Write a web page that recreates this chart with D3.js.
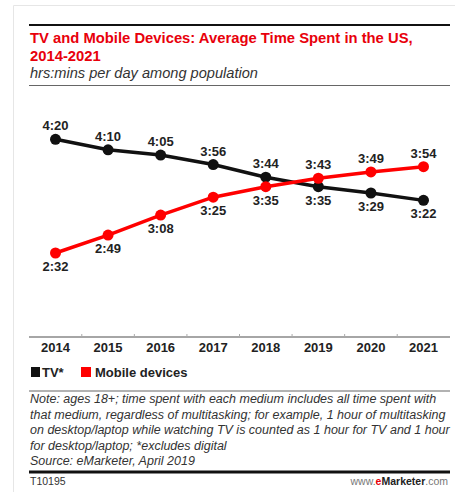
<!DOCTYPE html>
<html>
<head>
<meta charset="utf-8">
<script src="https://cdn.jsdelivr.net/npm/d3@7"></script>
<style>
  body { margin: 0; background: #fff; }
  text { font-family: Arial, "Liberation Sans", sans-serif; }
</style>
</head>
<body>
<div id="chart"></div>
<script>
// data (minutes per day)
var years = ["2014", "2015", "2016", "2017", "2018", "2019", "2020", "2021"];
var tvMinutes = [260, 250, 245, 236, 224, 215, 209, 202];
var mobileMinutes = [152, 169, 188, 205, 215, 223, 229, 234];
var seriesNames = ["TV*", "Mobile devices"];
var seriesColors = ["#111111", "#ff0000"];

var noteLines = [
    "Note: ages 18+; time spent with each medium includes all time spent with",
    "that medium, regardless of multitasking; for example, 1 hour of multitasking",
    "on desktop/laptop while watching TV is counted as 1 hour for TV and 1 hour",
    "for desktop/laptop; *excludes digital",
    "Source: eMarketer, April 2019"
];

function fmt(m) {
    var h = Math.floor(m / 60), mm = m % 60;
    return h + ":" + (mm < 10 ? "0" : "") + mm;
}

var width = 455, height = 492;
var left = 29, right = 450;

var svg = d3.select("#chart")
    .append("svg")
    .attr("width", width)
    .attr("height", height);

// panel frame
svg.append("path")
    .attr("d", "M13.5," + height + "V5.5H" + width)
    .attr("fill", "none")
    .attr("stroke", "#e6e6e6")
    .attr("stroke-width", 1);

// header
svg.append("line").attr("x1", left).attr("x2", right).attr("y1", 25).attr("y2", 25)
    .attr("stroke", "#111").attr("stroke-width", 2);

var title = svg.append("text")
    .attr("x", left + 1)
    .attr("fill", "#e8000b")
    .style("font-size", "14.8px")
    .style("font-weight", "bold");
title.append("tspan").attr("x", left + 1).attr("y", 43).text("TV and Mobile Devices: Average Time Spent in the US,");
title.append("tspan").attr("x", left + 1).attr("y", 61).text("2014-2021");

svg.append("text")
    .attr("x", left + 1).attr("y", 78)
    .attr("fill", "#333")
    .style("font-size", "14.6px")
    .style("font-style", "italic")
    .text("hrs:mins per day among population");

svg.append("line").attr("x1", left).attr("x2", right).attr("y1", 85.5).attr("y2", 85.5)
    .attr("stroke", "#666").attr("stroke-width", 1.2);

// scales
var x = d3.scalePoint()
    .domain(years)
    .range([55.5, 423.5]);

var y = d3.scaleLinear()
    .domain([152, 260])
    .range([253, 139.3]);

// x axis
var axisY = 337;
var xAxis = svg.append("g")
    .attr("transform", "translate(0," + axisY + ")");
xAxis.append("line").attr("x1", left).attr("x2", right)
    .attr("stroke", "#888").attr("stroke-width", 1.5);
xAxis.selectAll(".sep")
    .data(years.slice(1))
    .enter().append("line")
    .attr("x1", function(d) { return x(d) - x.step() / 2; })
    .attr("x2", function(d) { return x(d) - x.step() / 2; })
    .attr("y1", 0).attr("y2", -3)
    .attr("stroke", "#aaa").attr("stroke-width", 1);
xAxis.selectAll(".yr")
    .data(years)
    .enter().append("text")
    .attr("x", function(d) { return x(d); })
    .attr("y", 15)
    .attr("text-anchor", "middle")
    .attr("fill", "#222")
    .style("font-size", "13px")
    .style("font-weight", "bold")
    .text(function(d) { return d; });

// lines + points
var series = [tvMinutes, mobileMinutes];
var line = d3.line()
    .x(function(d, i) { return x(years[i]); })
    .y(function(d) { return y(d); });

series.forEach(function(vals, s) {
    svg.append("path")
        .datum(vals)
        .attr("d", line)
        .attr("fill", "none")
        .attr("stroke", seriesColors[s])
        .attr("stroke-width", 3.5);
});

series.forEach(function(vals, s) {
    svg.selectAll(".pt" + s)
        .data(vals)
        .enter().append("circle")
        .attr("cx", function(d, i) { return x(years[i]); })
        .attr("cy", function(d) { return y(d); })
        .attr("r", 5.5)
        .attr("fill", seriesColors[s]);
});

// labels: the higher series gets its label above, the lower one below
series.forEach(function(vals, s) {
    var other = series[1 - s];
    svg.selectAll(".lb" + s)
        .data(vals)
        .enter().append("text")
        .attr("x", function(d, i) { return x(years[i]); })
        .attr("y", function(d, i) { return d >= other[i] ? y(d) - 9 : y(d) + 18; })
        .attr("text-anchor", "middle")
        .attr("fill", "#222")
        .style("font-size", "13px")
        .style("font-weight", "bold")
        .text(function(d) { return fmt(d); });
});

// legend
var legend = svg.append("g").attr("transform", "translate(31,367)");
var lx = [0, 50];
seriesNames.forEach(function(n, i) {
    legend.append("rect")
        .attr("x", lx[i]).attr("y", 0)
        .attr("width", i == 0 ? 9 : 10).attr("height", 10)
        .attr("fill", seriesColors[i]);
    legend.append("text")
        .attr("x", lx[i] + (i == 0 ? 11 : 14)).attr("y", 9.5)
        .attr("fill", "#222")
        .style("font-size", "13px")
        .style("font-weight", "bold")
        .text(n);
});

svg.append("line").attr("x1", left).attr("x2", right).attr("y1", 391).attr("y2", 391)
    .attr("stroke", "#666").attr("stroke-width", 1.2);

// note
svg.selectAll(".note")
    .data(noteLines)
    .enter().append("text")
    .attr("x", left + 1)
    .attr("y", function(d, i) { return 403 + i * 15.5; })
    .attr("fill", "#333")
    .style("font-size", "12.5px")
    .style("font-style", "italic")
    .text(function(d) { return d; });

// footer
svg.append("line").attr("x1", left).attr("x2", right).attr("y1", 472).attr("y2", 472)
    .attr("stroke", "#111").attr("stroke-width", 3);

svg.append("text")
    .attr("x", left + 1).attr("y", 485)
    .attr("fill", "#333")
    .style("font-size", "10.5px")
    .text("T10195");

var brand = svg.append("text")
    .attr("x", 448).attr("y", 485)
    .attr("text-anchor", "end")
    .style("font-size", "10.5px");
brand.append("tspan").attr("fill", "#777").text("www.");
brand.append("tspan").attr("fill", "#e8000b").style("font-weight", "bold").text("e");
brand.append("tspan").attr("fill", "#222").style("font-weight", "bold").text("Marketer");
brand.append("tspan").attr("fill", "#777").text(".com");
</script>
</body>
</html>
